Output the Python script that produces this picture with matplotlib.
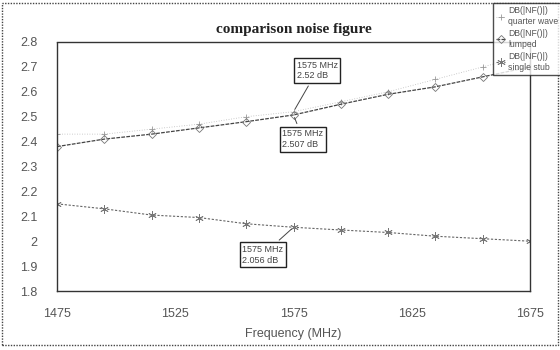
import matplotlib
matplotlib.use("Agg")
import matplotlib.pyplot as plt
from matplotlib.patches import Rectangle
from matplotlib.ticker import FuncFormatter

plt.rcParams['font.family'] = ['Liberation Sans', 'DejaVu Sans']

freq = [1475, 1495, 1515, 1535, 1555, 1575, 1595, 1615, 1635, 1655, 1675]
quarter_wave = [2.43, 2.43, 2.45, 2.47, 2.50, 2.52, 2.56, 2.60, 2.65, 2.70, 2.75]
lumped = [2.38, 2.41, 2.43, 2.455, 2.48, 2.507, 2.55, 2.59, 2.62, 2.66, 2.70]
single_stub = [2.15, 2.13, 2.105, 2.095, 2.07, 2.056, 2.045, 2.035, 2.02, 2.01, 2.0]
x_ticks = [1475, 1525, 1575, 1625, 1675]
y_ticks = [1.8, 1.9, 2.0, 2.1, 2.2, 2.3, 2.4, 2.5, 2.6, 2.7, 2.8]
legend_labels = ["DB(|NF()|)\nquarter wave", "DB(|NF()|)\nlumped", "DB(|NF()|)\nsingle stub"]
title = "comparison noise figure"
xlabel = "Frequency (MHz)"

fig = plt.figure(figsize=(5.6, 3.5), dpi=100)
fig.patch.set_facecolor('white')
# outer border
fig.patches.append(Rectangle((2/560, 5/350), 556/560, 342/350, transform=fig.transFigure,
                             fill=False, ec='#444444', lw=1.0, ls=(0, (1, 1))))

ax = fig.add_axes([57/560, 1-291/350, 473/560, 249/350])
for s in ax.spines.values():
    s.set_linestyle((0, (1, 1)))
    s.set_color('#333333')
    s.set_linewidth(1.0)

lq, = ax.plot(freq, quarter_wave, color='#bbbbbb', lw=0.6, ls=(0, (1, 2)),
              marker='+', ms=4, mew=0.6, mec='#999999')
ll, = ax.plot(freq, lumped, color='#444444', lw=0.9, ls=(0, (3, 1)),
              marker='D', ms=4, mfc='none', mec='#777777', mew=0.6)
ls_, = ax.plot(freq, single_stub, color='#666666', lw=0.8, ls=(0, (2, 1.5)),
               marker=(6, 2, 0), ms=6, mec='#777777', mew=0.6)

ax.set_xlim(1475, 1675)
ax.set_ylim(1.8, 2.8)
ax.set_xticks(x_ticks)
ax.set_yticks(y_ticks)
ax.yaxis.set_major_formatter(FuncFormatter(lambda v, p: f"{v:g}"))
ax.tick_params(length=0, labelsize=9, labelcolor='#555555')
ax.tick_params(axis='x', pad=12)
ax.tick_params(axis='y', pad=14)
ax.set_xlabel(xlabel, fontsize=9, color='#555555', labelpad=6)

fig.text(294/560, 1-30/350, title, ha='center', va='center', fontsize=11,
         fontweight='bold', family='Liberation Serif', color='#222222')

bbox = dict(boxstyle='square,pad=0.3', fc='white', ec='#222222', lw=1.0)
i = freq.index(1575)
ax.annotate(f"{freq[i]} MHz\n{quarter_wave[i]:.2f} dB", xy=(freq[i], quarter_wave[i]),
            xytext=(1585, 2.685), fontsize=6.5, color='#444444', bbox=bbox,
            ha='center', va='center', multialignment='left',
            arrowprops=dict(arrowstyle='-', color='#444444', lw=0.7))
ax.annotate(f"{freq[i]} MHz\n{lumped[i]:.3f} dB", xy=(freq[i], lumped[i]),
            xytext=(1579, 2.41), fontsize=6.5, color='#444444', bbox=bbox,
            ha='center', va='center', multialignment='left',
            arrowprops=dict(arrowstyle='-', color='#444444', lw=0.7))
ax.annotate(f"{freq[i]} MHz\n{single_stub[i]:.3f} dB", xy=(freq[i], single_stub[i]),
            xytext=(1562, 1.945), fontsize=6.5, color='#444444', bbox=bbox,
            ha='center', va='center', multialignment='left',
            arrowprops=dict(arrowstyle='-', color='#444444', lw=0.7))

leg = fig.legend([lq, ll, ls_], legend_labels, loc='upper left',
                 bbox_to_anchor=(493/560, 1-3/350), fontsize=6.2, frameon=True,
                 fancybox=False, edgecolor='#222222', handlelength=1.0,
                 handletextpad=0.4, borderpad=0.4, labelspacing=0.4, borderaxespad=0)
leg.get_frame().set_linewidth(1.0)
for t in leg.get_texts():
    t.set_color('#555555')

fig.savefig('out.png', dpi=100)
